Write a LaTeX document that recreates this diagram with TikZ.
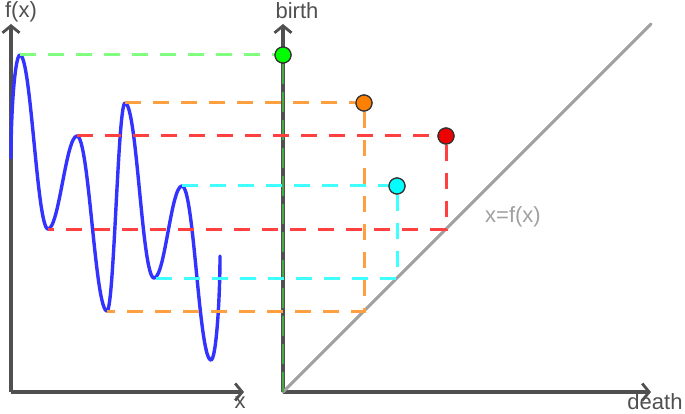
\documentclass[tikz,border=0pt]{standalone}
\usepackage{fontspec}
\setmainfont{Liberation Sans}
\usetikzlibrary{arrows.meta}
\definecolor{axisgray}{HTML}{505050}
\definecolor{diaggray}{HTML}{A0A0A0}
\definecolor{curveblue}{HTML}{3333FF}
\definecolor{lgreen}{HTML}{80FF80}
\definecolor{lorange}{HTML}{FFA040}
\definecolor{lred}{HTML}{FF4040}
\definecolor{lcyan}{HTML}{40FFFF}
\definecolor{dgreen}{HTML}{00FF00}
\definecolor{dorange}{HTML}{FF8000}
\definecolor{dred}{HTML}{EE0000}
\definecolor{dcyan}{HTML}{00FFFF}
\definecolor{axgreen}{HTML}{44AA44}
\tikzset{
  axis/.style={draw=axisgray, line width=3.2pt, -{Straight Barb[length=7pt,width=17pt,line width=2.8pt]}},
  dashln/.style={line width=3pt, dash pattern=on 16pt off 12pt},
  dot/.style={circle, draw=black!80, line width=1.2pt, minimum size=16pt, inner sep=0pt},
  lab/.style={text=axisgray, font=\fontsize{22}{24}\selectfont, inner sep=0pt},
}
\begin{document}
\begin{tikzpicture}[x=1pt,y=-1pt]
\useasboundingbox (0,0) rectangle (685,414);
% coordinates
\coordinate (O1) at (11,392);
\coordinate (O2) at (283,392);
\coordinate (yt1) at (11,24);
\coordinate (xt1) at (244,392);
\coordinate (yt2) at (283,24);
\coordinate (xt2) at (651,392);
\coordinate (dtop) at (651,24);
\coordinate (s) at (11,158);
\coordinate (p1) at (20,55);
\coordinate (m2) at (48,229);
\coordinate (p3) at (77,136);
\coordinate (m4) at (107,311);
\coordinate (p5) at (125,103);
\coordinate (m6) at (154,278);
\coordinate (p7) at (182,186);
\coordinate (m8) at (211,360);
\coordinate (e) at (220,256);
% axes
\draw[axis] (O1) -- (yt1);
\draw[axis] (O1) -- (xt1);
\draw[axis] (O2) -- (yt2);
\draw[axis] (O2) -- (xt2);
\draw[draw=diaggray, line width=3pt, line cap=round] (O2) -- (dtop);
% labels
\node[lab] (lfx) at (21,12) {f(x)};
\node[lab] (lx) at (240,403) {x};
\node[lab] (lbirth) at (297,11) {birth};
\node[lab] (ldeath) at (655,402) {death};
\node[lab, text=diaggray] (ldiag) at (513,217) {x=f(x)};
% curve
\draw[curveblue, line width=3.4pt, line join=round, line cap=round]
  (s) .. controls (11,110) and (15,55) .. (p1)
  .. controls (31,55) and (37,229) .. (m2)
  .. controls (59,229) and (66,136) .. (p3)
  .. controls (89,136) and (95,311) .. (m4)
  .. controls (114,311) and (118,103) .. (p5)
  .. controls (137,103) and (142,278) .. (m6)
  .. controls (165,278) and (171,186) .. (p7)
  .. controls (194,186) and (199,360) .. (m8)
  .. controls (216,360) and (220,300) .. (e);
% dots (nodes)
\node[dot, fill=dgreen] (g) at (283,55) {};
\node[dot, fill=dorange] (o) at (364,103) {};
\node[dot, fill=dred] (r) at (446,136) {};
\node[dot, fill=dcyan] (c) at (397,186) {};
% dashed lines
\draw[dashln, lgreen] (p1) -- (g.west);
\draw[axgreen, line width=2pt, dash pattern=on 20pt off 8pt] (g.south) -- (O2);
\draw[dashln, lorange] (p5) -- (o.west);
\draw[dashln, lorange] (o.south) |- (m4);
\draw[dashln, lred] (p3) -- (r.west);
\draw[dashln, lred] (r.south) |- (m2);
\draw[dashln, lcyan] (p7) -- (c.west);
\draw[dashln, lcyan] (c.south) |- (m6);
% redraw dots on top
\node[dot, fill=dgreen] at (g) {};
\node[dot, fill=dorange] at (o) {};
\node[dot, fill=dred] at (r) {};
\node[dot, fill=dcyan] at (c) {};
\end{tikzpicture}
\end{document}
